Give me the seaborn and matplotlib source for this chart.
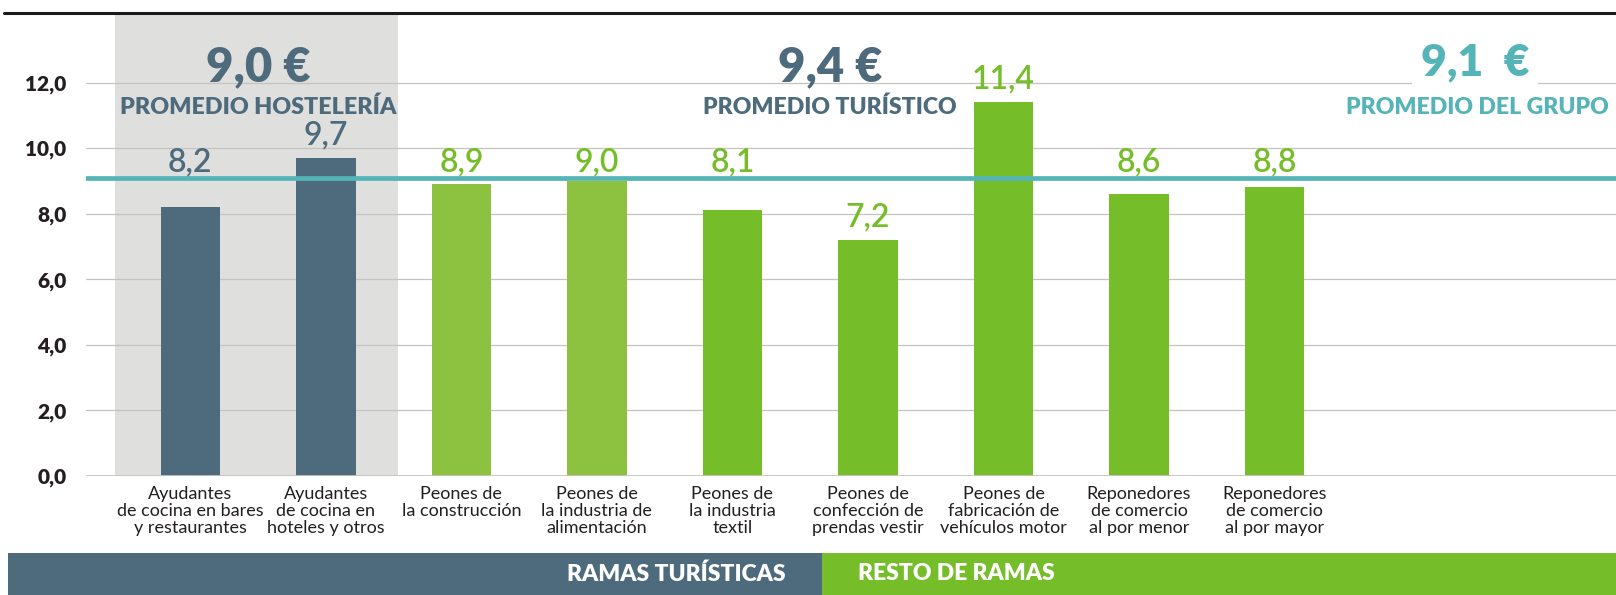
import seaborn as sns
import matplotlib.pyplot as plt
from matplotlib.patches import Rectangle
from matplotlib.lines import Line2D

# datos
categorias = [
    "Ayudantes\nde cocina en bares\ny restaurantes",
    "Ayudantes\nde cocina en\nhoteles y otros",
    "Peones de\nla construcción",
    "Peones de\nla industria de\nalimentación",
    "Peones de\nla industria\ntextil",
    "Peones de\nconfección de\nprendas vestir",
    "Peones de\nfabricación de\nvehículos motor",
    "Reponedores\nde comercio\nal por menor",
    "Reponedores\nde comercio\nal por mayor",
]
salario_hora = [8.2, 9.7, 8.9, 9.0, 8.1, 7.2, 11.4, 8.6, 8.8]
grupo = ["hosteleria", "hosteleria", "turistico", "turistico",
         "resto", "resto", "resto", "resto", "resto"]
promedio_hosteleria = 9.0
promedio_turistico = 9.4
promedio_grupo = 9.1
yticks = [0, 2, 4, 6, 8, 10, 12]
ytick_labels = ["0,0", "2,0", "4,0", "6,0", "8,0", "10,0", "12,0"]

AZUL = "#4d6b7d"
VERDE_CLARO = "#8cc240"
VERDE = "#76bd2a"
TEAL = "#55b4b8"
GRIS = "#dfdfdd"
colores = {"hosteleria": AZUL, "turistico": VERDE_CLARO, "resto": VERDE}
col_etiqueta = {"hosteleria": AZUL, "turistico": VERDE, "resto": VERDE}

sns.set_style("white")
plt.rcParams["font.family"] = ["Lato", "DejaVu Sans"]

fig = plt.figure(figsize=(16.16, 5.95), dpi=100)
ax = fig.add_axes([86 / 1616, 1 - 476 / 595, 1 - 86 / 1616, 462 / 595])

sns.barplot(x=list(range(len(categorias))), y=salario_hora,
            hue=list(range(len(categorias))),
            palette=[colores[g] for g in grupo], legend=False,
            width=0.44, saturation=1, linewidth=0, ax=ax, zorder=2,
            native_scale=True)

ax.set_xlim(-0.77, 10.52)
ax.set_ylim(0, 14.09)

# zona hostelería
ax.axvspan(-0.555, 1.535, color=GRIS, zorder=0, lw=0)

# rejilla
for t in yticks[1:]:
    ax.axhline(t, color="#c4c4bf", lw=0.9, zorder=0.5)
ax.axhline(0, color="#c4c4bf", lw=2, zorder=3)
ax.axhline(promedio_grupo, color=TEAL, lw=3.4, zorder=4)

ax.set_yticks(yticks)
ax.set_yticklabels(ytick_labels, fontsize=15, fontweight="heavy", color="#231f20")
ax.tick_params(axis="y", length=0, pad=14)
ax.set_xticks(range(len(categorias)))
ax.set_xticklabels(categorias, fontsize=13, color="#231f20", linespacing=1.08)
ax.tick_params(axis="x", length=0, pad=7)
for s in ax.spines.values():
    s.set_visible(False)
ax.set_xlabel("")
ax.set_ylabel("")

# etiquetas de valor
for i, (v, g) in enumerate(zip(salario_hora, grupo)):
    y = v + 0.68 if (v < 7.5 or v > 9.5) else 9.55
    ax.text(i, y, f"{v:.1f}".replace(".", ","), ha="center", va="center",
            fontsize=23, fontweight="semibold", color=col_etiqueta[g], zorder=5)

# promedios
ax.text(0.5, 12.47, f"{promedio_hosteleria:.1f} €".replace(".", ","),
        ha="center", va="center", fontsize=34, fontweight="heavy", color=AZUL)
ax.text(0.5, 11.25, "PROMEDIO HOSTELERÍA", ha="center", va="center",
        fontsize=16.8, fontweight="heavy", color=AZUL)
ax.text(4.72, 12.47, f"{promedio_turistico:.1f} €".replace(".", ","),
        ha="center", va="center", fontsize=34, fontweight="heavy", color=AZUL)
ax.text(4.72, 11.25, "PROMEDIO TURÍSTICO", ha="center", va="center",
        fontsize=16.6, fontweight="heavy", color=AZUL)
ax.text(9.48, 12.6, f"{promedio_grupo:.1f}  €".replace(".", ","),
        ha="center", va="center", fontsize=32, fontweight="heavy", color=TEAL,
        bbox=dict(facecolor="white", edgecolor="none", pad=6), zorder=3)
ax.text(9.5, 11.25, "PROMEDIO DEL GRUPO", ha="center", va="center",
        fontsize=16.6, fontweight="heavy", color=TEAL)

# línea superior
fig.add_artist(Line2D([4 / 1616, 1], [1 - 13 / 595] * 2, color="#1a1a1a", lw=2.2))

# banda inferior
fig.add_artist(Rectangle((8 / 1616, 0), (822 - 8) / 1616, 42 / 595,
                         transform=fig.transFigure, color=AZUL, lw=0))
fig.add_artist(Rectangle((822 / 1616, 0), (1616 - 822) / 1616, 42 / 595,
                         transform=fig.transFigure, color=VERDE, lw=0))
fig.text(786 / 1616, 21 / 595, "RAMAS TURÍSTICAS", ha="right", va="center",
         fontsize=16.5, fontweight="heavy", color="white")
fig.text(858 / 1616, 21 / 595, "RESTO DE RAMAS", ha="left", va="center",
         fontsize=16.5, fontweight="heavy", color="white")

fig.savefig("out.png", dpi=100)
